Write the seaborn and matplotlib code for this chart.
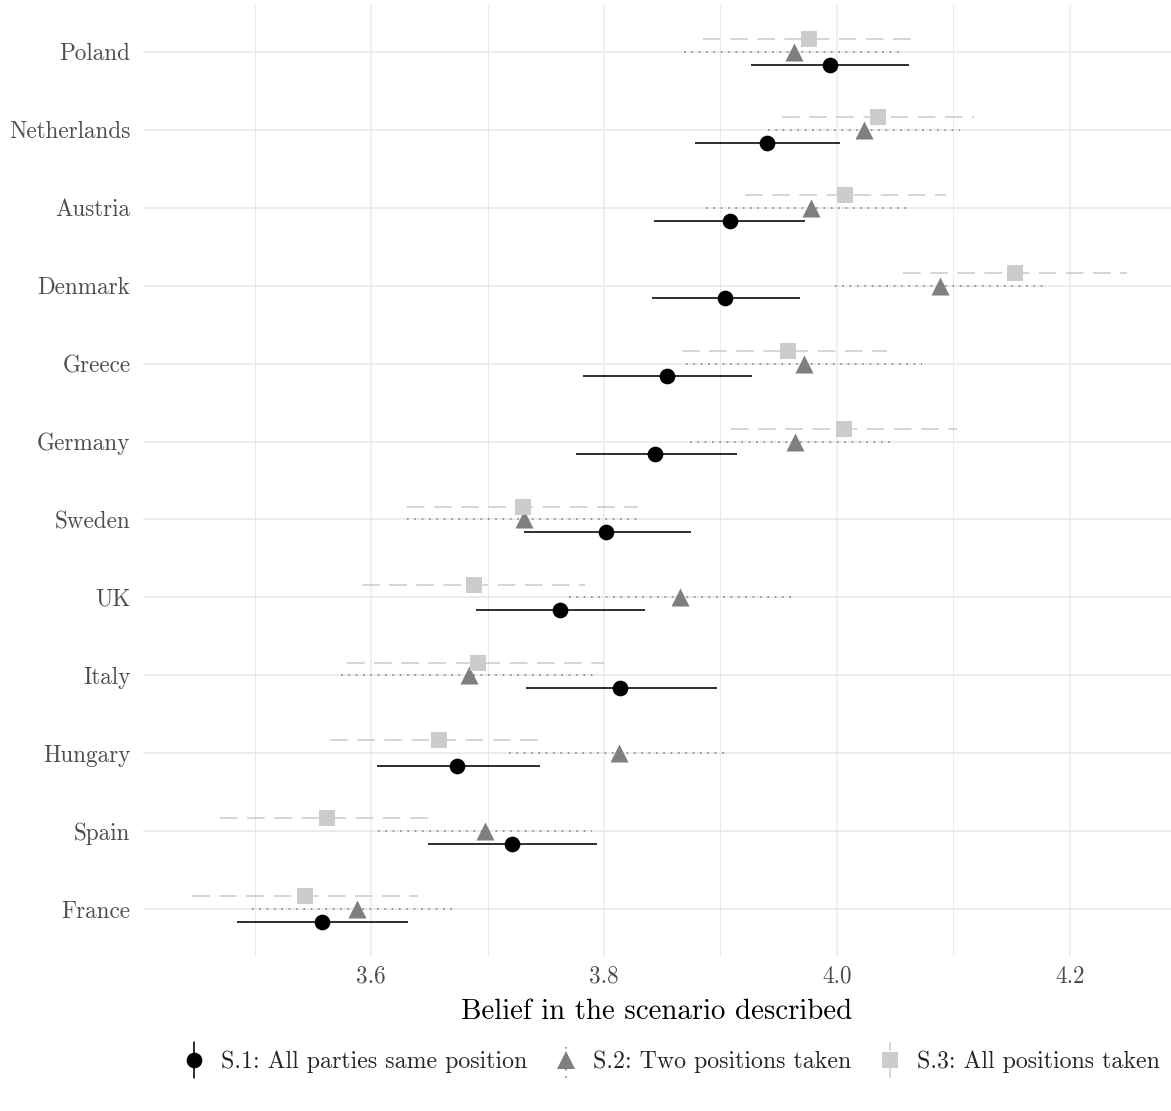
import numpy as np
import pandas as pd
import seaborn as sns
import matplotlib
matplotlib.use("Agg")
import matplotlib.pyplot as plt
from matplotlib.lines import Line2D
from matplotlib.legend_handler import HandlerBase

# ---- data ------------------------------------------------------------------
countries = ["Poland", "Netherlands", "Austria", "Denmark", "Greece", "Germany",
             "Sweden", "UK", "Italy", "Hungary", "Spain", "France"]

scenarios = ["S.1: All parties same position",
             "S.2: Two positions taken",
             "S.3: All positions taken"]

s1_mean = [3.994, 3.940, 3.908, 3.904, 3.854, 3.844, 3.802, 3.762, 3.814, 3.674, 3.721, 3.558]
s1_low  = [3.926, 3.878, 3.843, 3.841, 3.782, 3.776, 3.731, 3.690, 3.733, 3.605, 3.649, 3.485]
s1_high = [4.062, 4.003, 3.973, 3.968, 3.927, 3.914, 3.875, 3.835, 3.897, 3.745, 3.794, 3.632]

s2_mean = [3.963, 4.023, 3.978, 4.089, 3.972, 3.964, 3.731, 3.865, 3.684, 3.813, 3.698, 3.588]
s2_low  = [3.869, 3.941, 3.888, 3.998, 3.870, 3.874, 3.631, 3.770, 3.574, 3.718, 3.606, 3.498]
s2_high = [4.054, 4.106, 4.063, 4.181, 4.073, 4.049, 3.832, 3.962, 3.794, 3.903, 3.790, 3.673]

s3_mean = [3.976, 4.035, 4.007, 4.153, 3.958, 4.006, 3.730, 3.688, 3.692, 3.658, 3.562, 3.543]
s3_low  = [3.885, 3.953, 3.921, 4.057, 3.867, 3.909, 3.631, 3.592, 3.579, 3.565, 3.470, 3.446]
s3_high = [4.068, 4.118, 4.094, 4.249, 4.043, 4.103, 3.829, 3.784, 3.800, 3.751, 3.654, 3.640]

# ---- long table ------------------------------------------------------------
frames = []
for name, m, lo, hi in zip(scenarios,
                           [s1_mean, s2_mean, s3_mean],
                           [s1_low, s2_low, s3_low],
                           [s1_high, s2_high, s3_high]):
    frames.append(pd.DataFrame({"country": countries, "scenario": name,
                                "mean": m, "low": lo, "high": hi}))
df = pd.concat(frames, ignore_index=True)

# dodge offsets (screen-down is positive because the y axis is inverted)
dodge = {scenarios[0]: 0.165, scenarios[1]: 0.0, scenarios[2]: -0.165}
df["ypos"] = df["country"].map({c: i for i, c in enumerate(countries)}) + df["scenario"].map(dodge)

styles = {
    scenarios[0]: dict(color="#000000", marker="o", ms=11.3, ls="-"),
    scenarios[1]: dict(color="#7f7f7f", marker="^", ms=13.0, ls=(0, (1, 3.6))),
    scenarios[2]: dict(color="#cccccc", marker="s", ms=11.2, ls=(0, (11, 6))),
}

# ---- theme -----------------------------------------------------------------
sns.set_theme(style="white")
plt.rcParams["font.family"] = ["cmr10", "DejaVu Serif"]
plt.rcParams["axes.formatter.use_mathtext"] = True
plt.rcParams["mathtext.fontset"] = "cm"

fig = plt.figure(figsize=(11.71, 11.11), dpi=100)
ax = fig.add_axes([143 / 1171, 1 - 956 / 1111, 1 - 143 / 1171, (956 - 5) / 1111])

# grid: major at countries and x ticks, minor at half steps
grid_col = "#ebebeb"
for xv in [3.5, 3.7, 3.9, 4.1]:
    ax.axvline(xv, color=grid_col, lw=0.7, zorder=0)
for xv in [3.6, 3.8, 4.0, 4.2]:
    ax.axvline(xv, color=grid_col, lw=1.1, zorder=0)
for yv in range(len(countries)):
    ax.axhline(yv, color=grid_col, lw=1.3, zorder=0)

# intervals and point estimates
for k, name in enumerate(scenarios):
    sub = df[df["scenario"] == name]
    st = styles[name]
    ax.hlines(sub["ypos"], sub["low"], sub["high"], colors=st["color"],
              linestyles=[st["ls"]], lw=1.15, zorder=2 + k)
    sns.scatterplot(data=sub, x="mean", y="ypos", marker=st["marker"],
                    color=st["color"], s=st["ms"] ** 2, linewidth=0,
                    legend=False, ax=ax, zorder=5 + k)

ax.set_xlim(3.404, 4.287)
ax.set_ylim(len(countries) - 1 + 0.6, -0.6)
ax.set_xticks([3.6, 3.8, 4.0, 4.2])
ax.set_xticklabels(["3.6", "3.8", "4.0", "4.2"])
ax.set_yticks(range(len(countries)))
ax.set_yticklabels(countries)
ax.tick_params(axis="both", length=0, labelsize=16.7, labelcolor="#4d4d4d")
ax.tick_params(axis="y", pad=9)
ax.tick_params(axis="x", pad=7)
ax.set_xlabel("Belief in the scenario described", fontsize=20.8, color="black", labelpad=8)
ax.set_ylabel("")
for sp in ax.spines.values():
    sp.set_visible(False)


# legend keys: vertical interval line with the point on top
class PointRangeKey(HandlerBase):
    def __init__(self, st):
        super().__init__()
        self.st = st

    def create_artists(self, legend, orig_handle, xdescent, ydescent,
                       width, height, fontsize, trans):
        cx = width / 2 - xdescent
        cy = height / 2 - ydescent
        vline = Line2D([cx, cx], [cy - 13, cy + 13], color=self.st["color"],
                       lw=1.15, ls=self.st["ls"], transform=trans)
        pt = Line2D([cx], [cy], marker=self.st["marker"], color=self.st["color"],
                    ms=self.st["ms"], ls="none", mew=0, transform=trans)
        return [vline, pt]


handles = [Line2D([], [], label=n) for n in scenarios]
fig.legend(handles=handles, labels=scenarios, loc="center",
           bbox_to_anchor=(671 / 1171, 1 - 1062 / 1111), ncol=3, frameon=False,
           fontsize=17.2, handlelength=1.0, handletextpad=0.6, columnspacing=1.15,
           handler_map={h: PointRangeKey(styles[n]) for h, n in zip(handles, scenarios)})

fig.savefig("out.png", dpi=100, facecolor="white")
